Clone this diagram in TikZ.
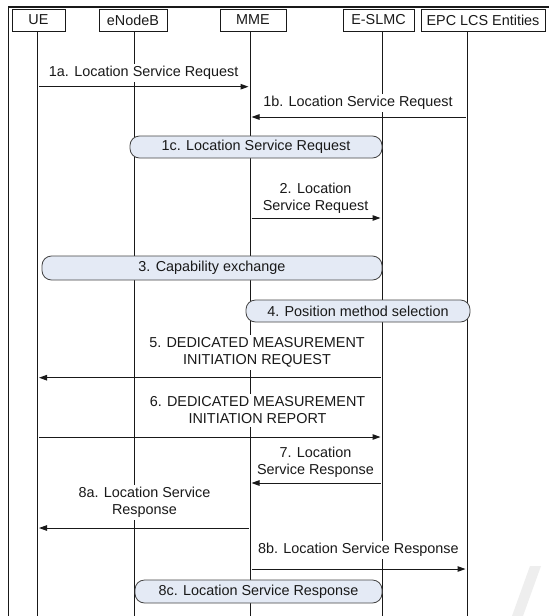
\documentclass[tikz,border=0pt]{standalone}
\usepackage{fontspec}
\setmainfont{Liberation Sans}
\usetikzlibrary{arrows.meta}
\definecolor{boxfill}{RGB}{228,234,245}
\definecolor{boxline}{RGB}{70,70,70}
\definecolor{ink}{RGB}{25,25,25}
\definecolor{haze}{RGB}{238,238,238}
\begin{document}
\begin{tikzpicture}[x=1pt,y=-1pt,
  every node/.style={font=\fontsize{14.4}{17}\selectfont, text=ink},
  actor/.style={draw=ink, line width=0.9pt, minimum height=22pt, inner sep=0pt, fill=white},
  lifeline/.style={draw=ink, line width=1pt},
  msglabel/.style={fill=white, align=center, inner sep=2.5pt},
  msg/.style={draw=ink, line width=1pt, -{Triangle[length=8pt,width=5.5pt]}, shorten >=1.5pt, shorten <=1.5pt},
  proc/.style={draw=boxline, fill=boxfill, line width=0.8pt, rounded corners=9.5pt, inner sep=0pt}
]
\useasboundingbox (0,0) rectangle (549,616);
\fill[white] (0,0) rectangle (549,616);

% faint mark in the lower right corner
\fill[haze] (512,616) -- (530,566) -- (541,566) -- (523,616) -- cycle;

% outer frame
\draw[ink, line width=1.5pt] (8.5,616) -- (8.5,7) -- (549,7);

% participants
\node[actor, minimum width=53pt] (hUE)  at (38.5,20) {UE};
\node[actor, minimum width=68pt] (hENB) at (133,20)  {eNodeB};
\node[actor, minimum width=66pt] (hMME) at (253,20)  {MME};
\node[actor, minimum width=71pt] (hSLMC) at (378.5,20) {E-SLMC};
\node[actor, minimum width=124pt] (hEPC) at (483,20) {EPC LCS Entities};

% lifelines
\coordinate (ue)   at (37.5,31);  \coordinate (ueB)   at (37.5,616);
\coordinate (enb)  at (134,31);   \coordinate (enbB)  at (134,616);
\coordinate (mme)  at (250,31);   \coordinate (mmeB)  at (250,616);
\coordinate (slmc) at (382,31);   \coordinate (slmcB) at (382,616);
\coordinate (epc)  at (467,31);   \coordinate (epcB)  at (467,616);
\foreach \a/\b in {ue/ueB, enb/enbB, mme/mmeB, slmc/slmcB, epc/epcB}
  \draw[lifeline] (\a) -- (\b);

% message rows
\coordinate (y1a) at (0,86.7);
\coordinate (y1b) at (0,117);
\coordinate (y2)  at (0,218);
\coordinate (y5)  at (0,377.7);
\coordinate (y6)  at (0,437);
\coordinate (y7)  at (0,483);
\coordinate (y8a) at (0,528);
\coordinate (y8b) at (0,569);

% message labels
\node[msglabel] (t1a) at (143.7,73)  {1a. Location Service Request};
\node[msglabel] (t1b) at (358,103)   {1b. Location Service Request};
\node[msglabel] (t2)  at (315.6,198.5) {2. Location\\Service Request};
\node[msglabel] (t5)  at (257,352.5) {5. DEDICATED MEASUREMENT\\INITIATION REQUEST};
\node[msglabel] (t6)  at (257.5,410.5) {6. DEDICATED MEASUREMENT\\INITIATION REPORT};
\node[msglabel] (t7)  at (315.5,462.5) {7. Location\\Service Response};
\node[msglabel] (t8a) at (144.5,502.5) {8a. Location Service\\Response};
\node[msglabel] (t8b) at (358.4,550) {8b. Location Service Response};

% procedures spanning several entities
\node[proc, minimum width=252pt, minimum height=22pt] (p1c) at (256,147)   {1c. Location Service Request};
\node[proc, minimum width=340pt, minimum height=24pt] (p3)  at (212,268)   {3. Capability exchange};
\node[proc, minimum width=224pt, minimum height=22pt] (p4)  at (358,311)   {4. Position method selection};
\node[proc, minimum width=247pt, minimum height=23pt] (p8c) at (258.5,591.5) {8c. Location Service Response};

% messages
\draw[msg] (ue |- y1a)   -- (mme |- y1a);
\draw[msg] (epc |- y1b)  -- (mme |- y1b);
\draw[msg] (mme |- y2)   -- (slmc |- y2);
\draw[msg] (slmc |- y5)  -- (ue |- y5);
\draw[msg] (ue |- y6)    -- (slmc |- y6);
\draw[msg] (slmc |- y7)  -- (mme |- y7);
\draw[msg] (mme |- y8a)  -- (ue |- y8a);
\draw[msg] (mme |- y8b)  -- (epc |- y8b);
\end{tikzpicture}
\end{document}
